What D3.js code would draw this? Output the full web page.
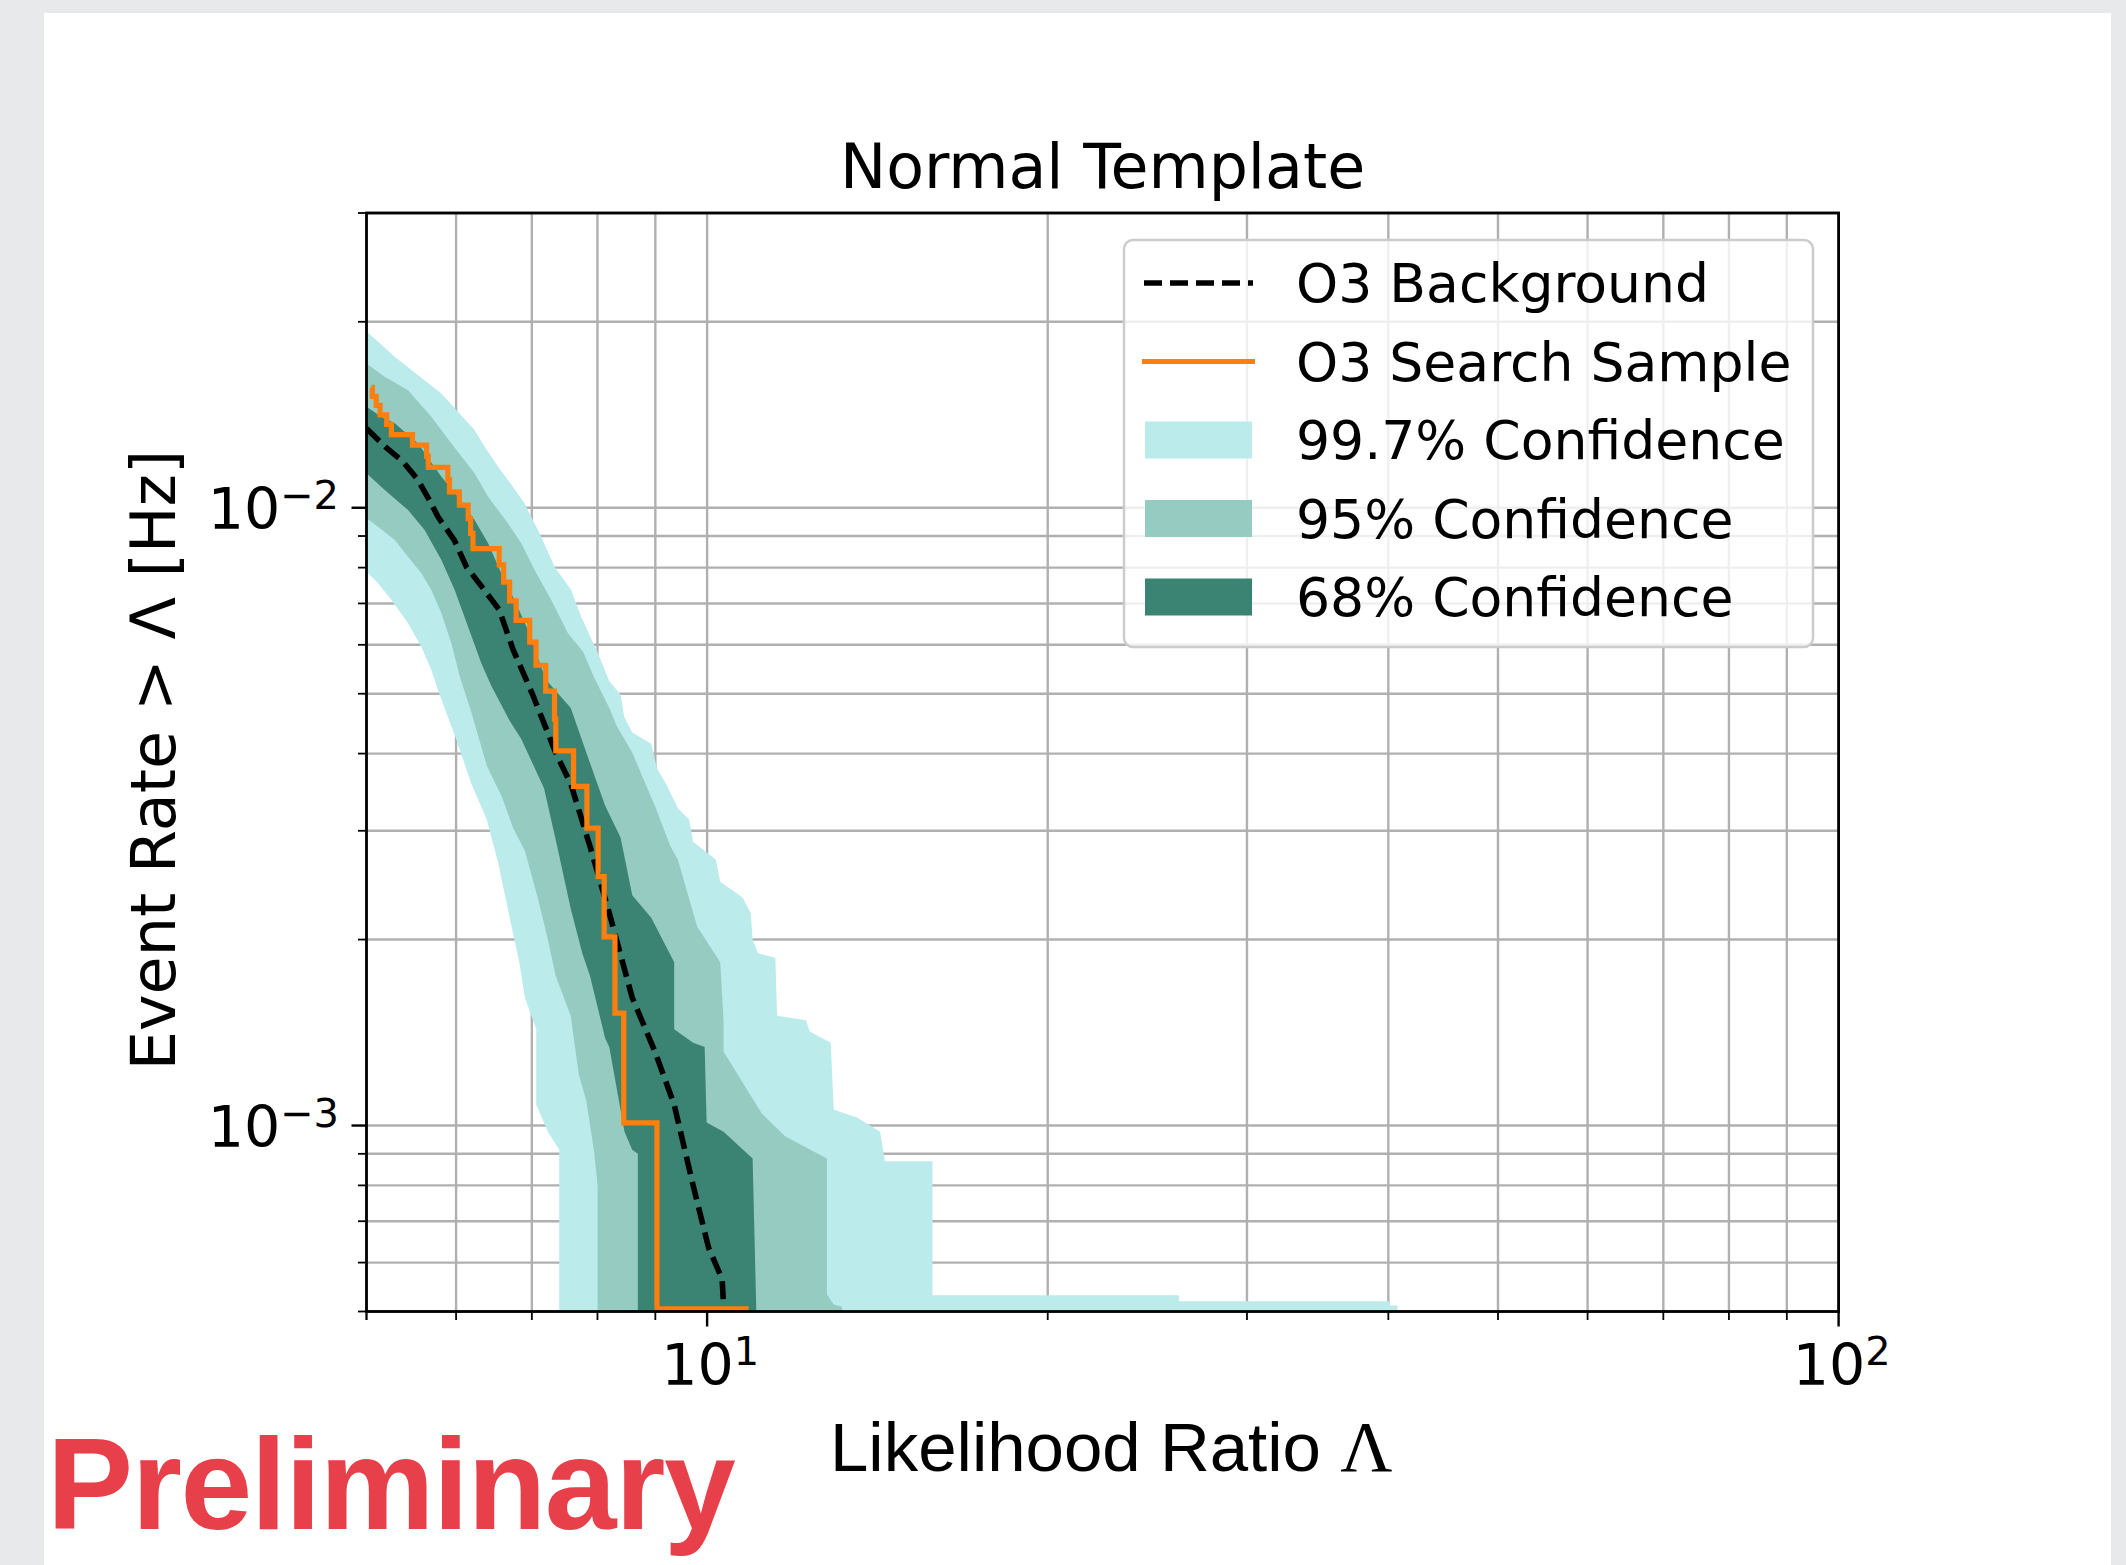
<!DOCTYPE html>
<html>
<head>
<meta charset="utf-8">
<script src="https://cdn.jsdelivr.net/npm/d3@7"></script>
<style>
  html, body { margin: 0; padding: 0; background: #e8e9eb; }
  svg { display: block; }
</style>
</head>
<body>
<svg id="chart" width="2126" height="1565"></svg>
<script>
// ---------------- data ----------------
// Band edges as [likelihood ratio Λ, event rate (Hz)] vertices.
const band997Upper = [
  [5.0, 0.0193], [5.296, 0.01755], [5.553, 0.01639], [5.823, 0.01531], [6.003, 0.01439],
  [6.23, 0.01336], [6.36, 0.01255], [6.535, 0.01165], [6.668, 0.01109], [6.897, 0.01017],
  [7.134, 0.008977], [7.331, 0.008026], [7.583, 0.007357], [7.738, 0.006665], [8.008, 0.005813],
  [8.195, 0.005245], [8.385, 0.004985], [8.448, 0.004586], [8.587, 0.004327], [8.925, 0.00415],
  [9.028, 0.003792], [9.2, 0.003573], [9.423, 0.003262], [9.641, 0.00313], [9.719, 0.002879],
  [10.18, 0.002694], [10.27, 0.00248], [10.75, 0.002339], [10.93, 0.002207], [10.97, 0.001999],
  [11.09, 0.0019], [11.49, 0.001869], [11.53, 0.001506], [12.23, 0.001481], [12.32, 0.00142],
  [12.86, 0.001362], [12.94, 0.001061], [13.57, 0.00103], [14.22, 0.0009775], [14.36, 0.000875],
  [15.82, 0.000875], [15.82, 0.000531], [26.12, 0.000531], [26.12, 0.0005196], [40.1, 0.0005196],
  [40.1, 0.0005113], [40.75, 0.0005113], [40.75, 0.0004]
];
const band997Lower = [
  [5.0, 0.00788], [5.119, 0.007546], [5.26, 0.007089], [5.441, 0.006501], [5.591, 0.005957],
  [5.705, 0.005463], [5.783, 0.005071], [5.861, 0.004742], [6.0, 0.004224], [6.19, 0.003573],
  [6.387, 0.00313], [6.539, 0.002652], [6.691, 0.002169], [6.823, 0.001838], [6.902, 0.00161],
  [7.063, 0.001432], [7.063, 0.001081], [7.233, 0.0009775], [7.401, 0.000914], [7.401, 0.0004]
];
const band95Upper = [
  [5.0, 0.01712], [5.189, 0.01629], [5.441, 0.0155], [5.705, 0.01404], [5.943, 0.01271],
  [6.23, 0.01137], [6.404, 0.01042], [6.668, 0.009436], [6.851, 0.008757], [7.039, 0.007931],
  [7.282, 0.007089], [7.534, 0.006262], [7.772, 0.00584], [7.941, 0.005328], [8.195, 0.004742],
  [8.319, 0.004434], [8.587, 0.004016], [8.786, 0.003634], [8.992, 0.003293], [9.276, 0.002836],
  [9.423, 0.002694], [9.647, 0.00232], [9.799, 0.002099], [10.27, 0.001838], [10.34, 0.001481],
  [10.34, 0.001318], [11.18, 0.001045], [11.72, 0.000961], [12.76, 0.000884], [12.76, 0.000533],
  [12.94, 0.0005133], [13.16, 0.000509], [13.16, 0.0004]
];
const band95Lower = [
  [5.0, 0.009613], [5.119, 0.009318], [5.296, 0.008866], [5.441, 0.008333], [5.591, 0.007834],
  [5.705, 0.007357], [5.823, 0.00675], [5.943, 0.006033], [6.046, 0.005328], [6.19, 0.004663],
  [6.387, 0.003822], [6.587, 0.003404], [6.74, 0.003027], [6.902, 0.002784], [7.091, 0.00232],
  [7.233, 0.001999], [7.347, 0.001748], [7.577, 0.001506], [7.7, 0.001213], [7.82, 0.001097],
  [7.941, 0.000914], [8.003, 0.0008], [8.003, 0.0004]
];
const band68Upper = [
  [5.0, 0.01457], [5.153, 0.01404], [5.296, 0.0137], [5.553, 0.01271], [5.823, 0.01122],
  [6.024, 0.01042], [6.23, 0.009552], [6.404, 0.008757], [6.578, 0.007834], [6.757, 0.007089],
  [6.946, 0.00634], [7.134, 0.00553], [7.208, 0.005264], [7.577, 0.004742], [7.82, 0.004016],
  [8.126, 0.003293], [8.385, 0.002927], [8.587, 0.002359], [8.925, 0.00217], [9.352, 0.001838],
  [9.352, 0.001432], [9.719, 0.001362], [9.95, 0.00134], [9.99, 0.001011], [10.34, 0.0009775],
  [10.97, 0.000884], [11.05, 0.0005113], [11.05, 0.0004]
];
const band68Lower = [
  [5.0, 0.01137], [5.189, 0.01068], [5.441, 0.009915], [5.628, 0.009203], [5.823, 0.008232],
  [5.983, 0.007357], [6.148, 0.006418], [6.316, 0.0056], [6.447, 0.005146], [6.691, 0.004519],
  [6.851, 0.004224], [7.176, 0.003515], [7.37, 0.002832], [7.577, 0.002243], [7.757, 0.0019],
  [7.879, 0.001748], [8.126, 0.001385], [8.195, 0.00134], [8.452, 0.0009775], [8.586, 0.000914],
  [8.685, 0.0009], [8.685, 0.0004]
];
// Expected background (median), dashed
const backgroundMedian = [
  [5.0, 0.01344], [5.186, 0.01258], [5.386, 0.01187], [5.553, 0.01109], [5.681, 0.01029],
  [5.783, 0.00967], [5.978, 0.008866], [6.127, 0.008026], [6.356, 0.007357], [6.551, 0.006833],
  [6.74, 0.005885], [7.011, 0.004985], [7.347, 0.004016], [7.577, 0.003573], [7.879, 0.002832],
  [8.195, 0.002207], [8.587, 0.00161], [8.992, 0.001318], [9.352, 0.001081], [9.719, 0.0008],
  [10.03, 0.0006343], [10.31, 0.0005642], [10.34, 0.0005113], [10.34, 0.0005]
];
// Search sample: step starts (Λ) and cumulative rate after each event
const sampleLambda = [
  5.05, 5.06, 5.10, 5.14, 5.21, 5.26, 5.49, 5.65, 5.67, 5.90, 5.92, 6.04, 6.15, 6.18, 6.21,
  6.55, 6.61, 6.69, 6.78, 6.97, 7.06, 7.20, 7.33, 7.35, 7.62, 7.83, 8.01, 8.11, 8.29, 8.44,
  9.03, 10.88
];
const sampleRate = [
  0.01566, 0.01515, 0.01465, 0.01414, 0.01364, 0.01313, 0.01263, 0.01212, 0.01162, 0.01111,
  0.01061, 0.0101, 0.0096, 0.00909, 0.00859, 0.00808, 0.00758, 0.00707, 0.00657, 0.00606,
  0.00556, 0.00505, 0.00455, 0.00404, 0.00354, 0.00303, 0.00253, 0.00202, 0.00152, 0.00101,
  0.000505, 0.000505
];
const xMajorTicks = [10, 100];
const xTickExponents = ["1", "2"];
const yMajorTicks = [1e-3, 1e-2];
const yTickExponents = ["\u22123", "\u22122"];
const legendLabels = ["O3 Background", "O3 Search Sample", "99.7% Confidence", "95% Confidence", "68% Confidence"];

// ---------------- layout ----------------
const svg = d3.select("#chart");
const plot = { left: 366.5, right: 1838.6, top: 213, bottom: 1311.5 };
const colors = { c997: "#bcebec", c95: "#95cbc1", c68: "#3b8372", sample: "#ff7f0e" };
const SANS = "'DejaVu Sans', sans-serif";

// white page
svg.append("rect").attr("x", 44).attr("y", 13).attr("width", 2067).attr("height", 1552).attr("fill", "#ffffff");

const x = d3.scaleLog().domain([5, 100]).range([plot.left, plot.right]);
const y = d3.scaleLog().domain([5e-4, 3e-2]).range([plot.bottom, plot.top]);

const defs = svg.append("defs");
defs.append("clipPath").attr("id", "plotClip")
  .append("rect").attr("x", plot.left).attr("y", plot.top)
  .attr("width", plot.right - plot.left).attr("height", plot.bottom - plot.top);

// grid (major + minor)
const xGrid = x.ticks();
const yGrid = y.ticks();
const grid = svg.append("g").attr("stroke", "#b0b0b0").attr("stroke-width", 2.4);
grid.selectAll("line.gx").data(xGrid).join("line").attr("class", "gx")
  .attr("x1", d => x(d)).attr("x2", d => x(d)).attr("y1", plot.top).attr("y2", plot.bottom);
grid.selectAll("line.gy").data(yGrid).join("line").attr("class", "gy")
  .attr("y1", d => y(d)).attr("y2", d => y(d)).attr("x1", plot.left).attr("x2", plot.right);

// bands
const marks = svg.append("g").attr("clip-path", "url(#plotClip)");
const edge = d3.line().x(d => x(d[0])).y(d => y(d[1]));
[
  { upper: band997Upper, lower: band997Lower, color: colors.c997 },
  { upper: band95Upper, lower: band95Lower, color: colors.c95 },
  { upper: band68Upper, lower: band68Lower, color: colors.c68 }
].forEach(b => {
  marks.append("path")
    .attr("d", edge(b.upper.concat(b.lower.slice().reverse())) + "Z")
    .attr("fill", b.color);
});

// background median
marks.append("path").attr("d", edge(backgroundMedian))
  .attr("fill", "none").attr("stroke", "#000").attr("stroke-width", 5.6)
  .attr("stroke-dasharray", "18,8");

// search sample step line
const samplePts = sampleLambda.map((l, i) => [l, sampleRate[i]]);
marks.append("path")
  .attr("d", d3.line().x(d => x(d[0])).y(d => y(d[1])).curve(d3.curveStepAfter)(samplePts))
  .attr("fill", "none").attr("stroke", colors.sample).attr("stroke-width", 5.2);

// ticks
const isMajor = v => Math.abs(Math.log10(v) - Math.round(Math.log10(v))) < 1e-9;
const ticks = svg.append("g").attr("stroke", "#000");
ticks.selectAll("line.tx").data(xGrid.concat([5])).join("line").attr("class", "tx")
  .attr("x1", d => x(d)).attr("x2", d => x(d))
  .attr("y1", plot.bottom).attr("y2", d => plot.bottom + (isMajor(d) ? 15 : 8.5))
  .attr("stroke-width", d => isMajor(d) ? 2.4 : 1.8);
ticks.selectAll("line.ty").data(yGrid).join("line").attr("class", "ty")
  .attr("y1", d => y(d)).attr("y2", d => y(d))
  .attr("x1", plot.left).attr("x2", d => plot.left - (isMajor(d) ? 15 : 8.5))
  .attr("stroke-width", d => isMajor(d) ? 2.4 : 1.8);

// spines
svg.append("rect").attr("x", plot.left).attr("y", plot.top)
  .attr("width", plot.right - plot.left).attr("height", plot.bottom - plot.top)
  .attr("fill", "none").attr("stroke", "#000").attr("stroke-width", 2.8);

// tick labels with superscripts
const tickFont = 57;
xMajorTicks.forEach((v, i) => {
  const t = svg.append("text").attr("x", x(v) + 3).attr("y", plot.bottom + 73)
    .attr("text-anchor", "middle").attr("font-family", SANS).attr("font-size", tickFont).attr("fill", "#000");
  t.append("tspan").text("10");
  t.append("tspan").attr("font-size", tickFont * 0.7).attr("dy", -20).text(xTickExponents[i]);
});
yMajorTicks.forEach((v, i) => {
  const t = svg.append("text").attr("x", 339).attr("y", y(v) + 21)
    .attr("text-anchor", "end").attr("font-family", SANS).attr("font-size", tickFont).attr("fill", "#000");
  t.append("tspan").text("10");
  t.append("tspan").attr("font-size", tickFont * 0.7).attr("dy", -20).text(yTickExponents[i]);
});

// title
svg.append("text").attr("x", (plot.left + plot.right) / 2).attr("y", 188)
  .attr("text-anchor", "middle").attr("font-family", SANS).attr("font-size", 61.8).attr("fill", "#000")
  .text("Normal Template");

// y label
svg.append("text").attr("transform", "translate(175,760) rotate(-90)")
  .attr("text-anchor", "middle").attr("font-family", SANS).attr("font-size", 62).attr("fill", "#000")
  .text("Event Rate > \u039B [Hz]");

// x label
const xl = svg.append("text").attr("x", 830).attr("y", 1471)
  .attr("font-family", "'Liberation Sans', Arial, sans-serif").attr("font-size", 69).attr("fill", "#000");
xl.append("tspan").text("Likelihood Ratio ");
xl.append("tspan").attr("font-family", "'Liberation Serif', serif").attr("font-size", 72).text("\u039B");

// legend
const leg = svg.append("g");
leg.append("rect").attr("x", 1124).attr("y", 240).attr("width", 689).attr("height", 407)
  .attr("rx", 9).attr("fill", "#ffffff").attr("fill-opacity", 0.8)
  .attr("stroke", "#cccccc").attr("stroke-width", 2.5);
const rowY = i => 283 + i * 78.5;
leg.append("line").attr("x1", 1144).attr("x2", 1253).attr("y1", rowY(0)).attr("y2", rowY(0))
  .attr("stroke", "#000").attr("stroke-width", 5.6).attr("stroke-dasharray", "18,8");
leg.append("line").attr("x1", 1142).attr("x2", 1255).attr("y1", rowY(1)).attr("y2", rowY(1))
  .attr("stroke", colors.sample).attr("stroke-width", 5.2);
[colors.c997, colors.c95, colors.c68].forEach((c, i) => {
  leg.append("rect").attr("x", 1145).attr("y", rowY(i + 2) - 18.5).attr("width", 107).attr("height", 37).attr("fill", c);
});
leg.selectAll("text.lt").data(legendLabels).join("text").attr("class", "lt")
  .attr("x", 1296).attr("y", (d, i) => rowY(i) + 19)
  .attr("font-family", SANS).attr("font-size", 53.6).attr("fill", "#000")
  .text(d => d);

// preliminary stamp
svg.append("text").attr("x", 47).attr("y", 1529)
  .attr("font-family", "'Liberation Sans', Arial, sans-serif").attr("font-weight", "bold")
  .attr("font-size", 129).attr("letter-spacing", -1.4).attr("fill", "#e8404a")
  .text("Preliminary");
</script>
</body>
</html>
